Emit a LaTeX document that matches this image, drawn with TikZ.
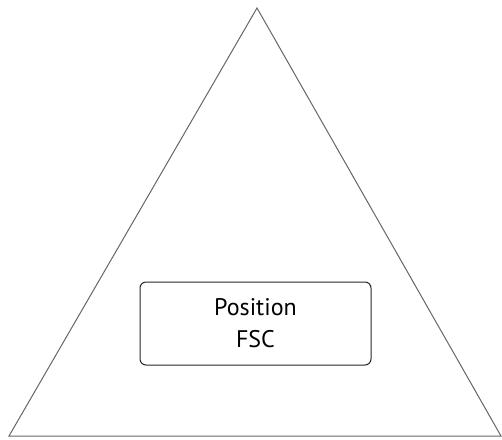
\documentclass[tikz,border=0pt]{standalone}
\usepackage{fontspec}
\setmainfont{PT Sans}
\begin{document}
\begin{tikzpicture}[x=1pt,y=1pt,
  tri/.style={draw=black!60, line width=1pt, line join=miter},
  posbox/.style={draw=black!85, line width=1pt, rounded corners=6pt, minimum width=231pt, minimum height=83pt, align=center, font=\fontsize{24}{32}\selectfont, inner sep=0pt}]
\useasboundingbox (0,0) rectangle (502,439);
\coordinate (apex) at (257,431);
\coordinate (bl) at (9,3);
\coordinate (br) at (501,3);
\draw[tri] (apex) -- (br) -- (bl) -- cycle;
\node[posbox] (pos) at (255.5,115.5) {Position\\FSC};
\end{tikzpicture}
\end{document}
